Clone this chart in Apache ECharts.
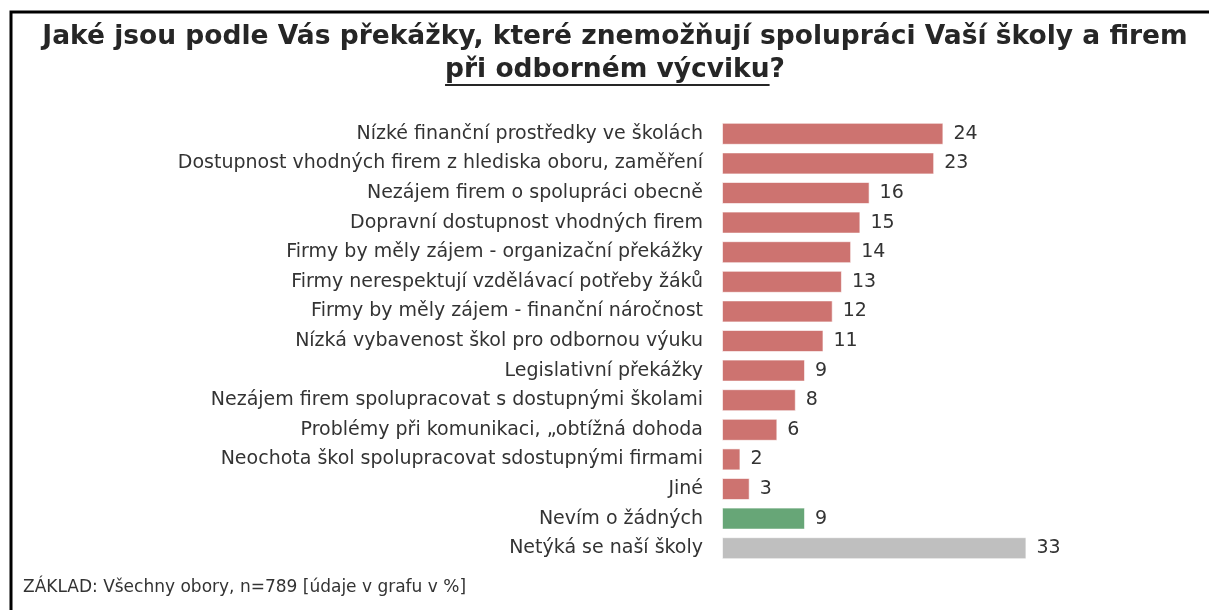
<!DOCTYPE html>
<html>
<head>
<meta charset="utf-8">
<script src="https://cdn.jsdelivr.net/npm/echarts@6/dist/echarts.min.js"></script>
<style>
  html, body { margin: 0; padding: 0; background: #fff; }
  #chart { width: 1209px; height: 610px; }
</style>
</head>
<body>
<div id="chart"></div>
<script>
// data
var categories = [
    'Nízké finanční prostředky ve školách',
    'Dostupnost vhodných firem z hlediska oboru, zaměření',
    'Nezájem firem o spolupráci obecně',
    'Dopravní dostupnost vhodných firem',
    'Firmy by měly zájem - organizační překážky',
    'Firmy nerespektují vzdělávací potřeby žáků',
    'Firmy by měly zájem - finanční náročnost',
    'Nízká vybavenost škol pro odbornou výuku',
    'Legislativní překážky',
    'Nezájem firem spolupracovat s dostupnými školami',
    'Problémy při komunikaci, „obtížná dohoda',
    'Neochota škol spolupracovat sdostupnými firmami',
    'Jiné',
    'Nevím o žádných',
    'Netýká se naší školy'
];
var values = [24, 23, 16, 15, 14, 13, 12, 11, 9, 8, 6, 2, 3, 9, 33];
var groups = ['bar', 'bar', 'bar', 'bar', 'bar', 'bar', 'bar', 'bar', 'bar', 'bar', 'bar', 'bar', 'bar', 'none', 'na'];

var colors = { bar: '#cd7370', none: '#67a677', na: '#bfbfbf' };
var font = 'DejaVu Sans, Verdana, sans-serif';

// šířka podtrženého textu
function textWidth(txt, f) {
    var c = document.createElement('canvas').getContext('2d');
    c.font = f;
    return c.measureText(txt).width;
}

var myChart = echarts.init(document.getElementById('chart'));

var t2a = 'při odborném výcviku';
var t2b = '?';
var titleFont = 'bold 26.5px ' + font;
var wA = textWidth(t2a, titleFont);
var wB = textWidth(t2b, titleFont);
var x0 = 615 - (wA + wB) / 2;

var option = {
    animation: false,
    grid: {
        left: 722,
        top: 119,
        bottom: 47,
        right: 118
    },
    xAxis: {
        type: 'value',
        min: 0,
        max: 40,
        show: false
    },
    yAxis: {
        type: 'category',
        data: categories,
        inverse: true,
        axisLine: { show: false },
        axisTick: { show: false },
        axisLabel: {
            fontSize: 19,
            color: '#333',
            fontFamily: font,
            margin: 19,
            padding: [3, 0, 0, 0]
        }
    },
    series: [{
        type: 'bar',
        barWidth: 22,
        data: values.map(function(v, i) {
            return {
                value: v,
                itemStyle: { color: colors[groups[i]] }
            };
        }),
        itemStyle: {
            borderColor: 'rgba(255,255,255,0.6)',
            borderWidth: 1
        },
        label: {
            show: true,
            position: 'right',
            distance: 10,
            fontSize: 19,
            color: '#333',
            fontFamily: font,
            padding: [3, 0, 0, 0]
        }
    }],
    graphic: [
        {
            type: 'rect',
            shape: { x: 11, y: 12, width: 1300, height: 700 },
            style: { fill: 'none', stroke: '#000', lineWidth: 3 },
            silent: true
        },
        {
            type: 'text',
            x: 615,
            y: 37,
            style: {
                text: 'Jaké jsou podle Vás překážky, které znemožňují spolupráci Vaší školy a firem',
                font: titleFont,
                fill: '#262626',
                align: 'center',
                verticalAlign: 'middle'
            }
        },
        {
            type: 'text',
            x: x0,
            y: 70,
            style: {
                text: t2a,
                font: titleFont,
                fill: '#262626',
                align: 'left',
                verticalAlign: 'middle'
            }
        },
        {
            type: 'text',
            x: x0 + wA,
            y: 70,
            style: {
                text: t2b,
                font: titleFont,
                fill: '#262626',
                align: 'left',
                verticalAlign: 'middle'
            }
        },
        {
            type: 'line',
            shape: { x1: x0, y1: 85, x2: x0 + wA, y2: 85 },
            style: { stroke: '#262626', lineWidth: 2 }
        },
        {
            type: 'text',
            x: 23,
            y: 588,
            style: {
                text: 'ZÁKLAD: Všechny obory, n=789 [údaje v grafu v %]',
                font: '17px ' + font,
                fill: '#333',
                verticalAlign: 'middle'
            }
        }
    ]
};

myChart.setOption(option);
</script>
</body>
</html>
